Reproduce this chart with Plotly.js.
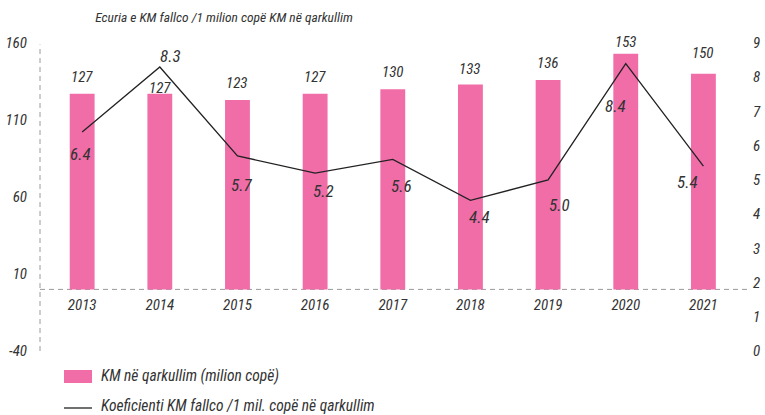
<!DOCTYPE html>
<html>
<head>
<meta charset="utf-8">
<script src="https://cdn.plot.ly/plotly-3.0.1.min.js"></script>
<style>html,body{margin:0;padding:0;background:#fff;}#chart{width:765px;height:415px;}</style>
</head>
<body>
<div id="chart"></div>
<script>
// ---- data ----
const years = ['2013','2014','2015','2016','2017','2018','2019','2020','2021'];
const kmInCirculation = [127, 127, 123, 127, 130, 133, 136, 153, 140];
const kmInCirculationLabels = ['127','127','123','127','130','133','136','153','150'];
const counterfeitRatio = [6.4, 8.3, 5.7, 5.2, 5.6, 4.4, 5.0, 8.4, 5.4];
const leftTickValues = [-40, 10, 60, 110, 160];
const rightTickValues = [0, 1, 2, 3, 4, 5, 6, 7, 8, 9];
const barSeriesName = 'KM në qarkullim (milion copë)';
const lineSeriesName = 'Koeficienti KM fallco /1 mil. copë në qarkullim';
const chartTitle = 'Ecuria e KM fallco /1 milion copë KM në qarkullim';

// ---- label placement (styling offsets, px) ----
const barLabelYShift = [17, 6, 17, 17, 17, 16, 17, 12, 21];
const lineLabelXShift = [-2, 11, 4, 8, 9, 9, 11, -10, -16];
const lineLabelYShift = [-22, 11, -29, -18, -27, -17, -25, -42, -16];

const FONT = '"Roboto Condensed", "DejaVu Sans Condensed", sans-serif';
const TXT = '#333333';
const PINK = '#F06DA8';
const LINE_COLOR = '#222222';

// plot-area geometry (px)
const W = 765, H = 415, ML = 40, MR = 15, MT = 43, MB = 64;
const PW = W - ML - MR, PH = H - MT - MB;
const px2x = p => (p - ML) / PW;          // pixel x -> paper x
const px2y = p => (H - MB - p) / PH;      // pixel y -> paper y

const traces = [
  {
    type: 'bar', x: years, y: kmInCirculation, name: barSeriesName,
    marker: {color: PINK, line: {width: 0}}, width: 0.32,
    hoverinfo: 'x+y', showlegend: false
  },
  {
    type: 'scatter', mode: 'lines', x: years, y: counterfeitRatio, yaxis: 'y2',
    name: lineSeriesName, line: {color: LINE_COLOR, width: 1.3},
    showlegend: false
  }
];

const annotations = [];
years.forEach((yr, i) => {
  annotations.push({
    x: i, y: kmInCirculation[i], xref: 'x', yref: 'y',
    text: kmInCirculationLabels[i], showarrow: false,
    yanchor: 'middle', yshift: barLabelYShift[i],
    font: {family: FONT, size: 15, color: TXT, style: 'italic'}
  });
  annotations.push({
    x: i, y: counterfeitRatio[i], xref: 'x', yref: 'y2',
    text: counterfeitRatio[i].toFixed(1), showarrow: false,
    yanchor: 'middle', xshift: lineLabelXShift[i], yshift: lineLabelYShift[i],
    font: {family: FONT, size: 17, color: TXT, style: 'italic'}
  });
});

// legend (drawn below the plot)
const legendFont = {family: FONT, size: 15.5, color: TXT, style: 'italic'};
annotations.push({
  xref: 'paper', yref: 'paper', x: px2x(99), y: px2y(376),
  xanchor: 'left', yanchor: 'middle', showarrow: false,
  text: barSeriesName, font: legendFont
});
annotations.push({
  xref: 'paper', yref: 'paper', x: px2x(99), y: px2y(406),
  xanchor: 'left', yanchor: 'middle', showarrow: false,
  text: lineSeriesName, font: legendFont
});

const tickFont = {family: FONT, size: 15, color: TXT, style: 'italic'};

const layout = {
  width: W, height: H,
  margin: {l: ML, r: MR, t: MT, b: MB},
  paper_bgcolor: '#ffffff', plot_bgcolor: '#ffffff',
  font: {family: FONT, color: TXT},
  showlegend: false,
  title: {
    text: chartTitle, xref: 'container', yref: 'container',
    x: 224/W, xanchor: 'center', y: 1 - 17/H, yanchor: 'middle',
    font: {family: FONT, size: 13.5, color: TXT, style: 'italic'}
  },
  xaxis: {
    type: 'category', range: [-0.543, 8.6], autorange: false,
    anchor: 'free', position: 0.2,
    showgrid: false, zeroline: false, showline: false, ticks: '',
    ticklabelstandoff: 5, tickfont: tickFont, fixedrange: true
  },
  yaxis: {
    range: [-40, 160], autorange: false, tickmode: 'array',
    tickvals: leftTickValues, ticktext: leftTickValues.map(String),
    showgrid: false, zeroline: false, showline: false, ticks: '',
    ticklabelstandoff: 12, tickfont: tickFont
  },
  yaxis2: {
    overlaying: 'y', side: 'right', range: [0, 9], autorange: false,
    tickmode: 'array', tickvals: rightTickValues, ticktext: rightTickValues.map(String),
    showgrid: false, zeroline: false, showline: false, ticks: '',
    ticklabelstandoff: 2, tickfont: tickFont
  },
  shapes: [
    {type: 'line', xref: 'paper', yref: 'y', x0: 0, x1: 1, y0: 0, y1: 0,
     line: {color: '#9a9a9a', width: 1, dash: '5px,4px'}, layer: 'below'},
    {type: 'line', xref: 'paper', yref: 'paper', x0: 0, x1: 0, y0: 0, y1: 0.995,
     line: {color: '#9a9a9a', width: 1, dash: '5px,4px'}, layer: 'below'},
    // legend swatches
    {type: 'rect', xref: 'paper', yref: 'paper',
     x0: px2x(64), x1: px2x(92), y0: px2y(383), y1: px2y(370),
     fillcolor: PINK, line: {width: 0}},
    {type: 'line', xref: 'paper', yref: 'paper',
     x0: px2x(64), x1: px2x(92), y0: px2y(408), y1: px2y(408),
     line: {color: LINE_COLOR, width: 1.3}}
  ],
  annotations: annotations
};

Plotly.newPlot('chart', traces, layout, {displayModeBar: false, staticPlot: true});
</script>
</body>
</html>
